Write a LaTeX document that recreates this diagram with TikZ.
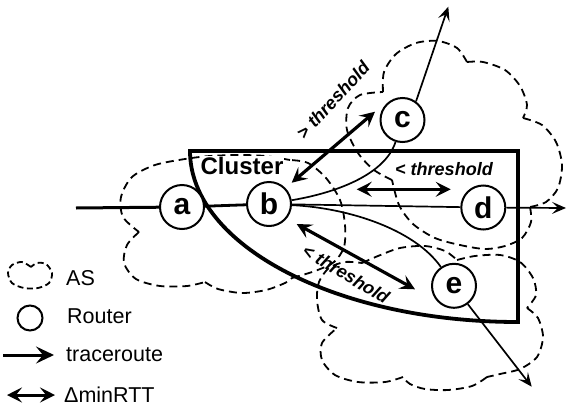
\documentclass[tikz,border=0pt]{standalone}
\usepackage{fontspec}
\setmainfont{Liberation Sans}
\usetikzlibrary{arrows.meta}
\begin{document}
\begin{tikzpicture}[x=1pt,y=-1pt,
  router/.style={circle, draw, line width=2pt, fill=white, minimum size=44pt,
    inner sep=0pt, font=\fontsize{30}{30}\selectfont\bfseries},
  asline/.style={dash pattern=on 8pt off 5pt, line width=1.8pt},
  trace/.style={line width=1.7pt},
  traceend/.style={line width=1.7pt, -{Stealth[length=14pt,width=12pt,inset=6pt]}},
  rtt/.style={line width=3.2pt,
    {Stealth[length=15pt,width=15pt,inset=6pt]}-{Stealth[length=15pt,width=15pt,inset=6pt]}},
  thr/.style={font=\fontsize{18}{18}\selectfont\bfseries\itshape, inner sep=0pt},
  legtext/.style={font=\fontsize{21.5}{21.5}\selectfont, anchor=west, inner sep=0pt},
]
\useasboundingbox (0,0) rectangle (567,407);

% --- autonomous systems (dashed clouds) ---
% left AS around a
\draw[asline]
  plot[smooth] coordinates {(290,160) (265,156) (240,155) (210,156) (185,159) (155,165) (132,177) (121,197) (123,217) (139,232)}
  plot[smooth] coordinates {(139,232) (127,245) (124,263) (136,279) (160,286) (187,286) (205,282)}
  plot[smooth] coordinates {(205,282) (218,289) (242,293) (266,290) (285,283) (292,278)}
  plot[smooth] coordinates {(292,278) (315,271) (334,262) (344,247) (345,225) (340,200) (326,178) (308,163) (290,160)};
% upper right AS around c and d
\draw[asline]
  plot[smooth] coordinates {(383,92) (384,72) (396,54) (416,43) (438,41) (457,48) (467,62)}
  plot[smooth] coordinates {(467,62) (483,62) (505,70) (520,86) (527,105) (523,118)}
  plot[smooth] coordinates {(523,118) (542,125) (556,142) (562,165) (558,188) (546,202) (530,207)}
  plot[smooth] coordinates {(530,207) (531,222) (522,238) (505,246) (485,249) (460,245) (435,238) (413,224) (399,205) (392,180)}
  plot[smooth] coordinates {(392,180) (374,170) (358,153) (347,130) (348,108) (360,95) (383,92)};
% lower right AS around e
\draw[asline]
  plot[smooth] coordinates {(337,328) (322,320) (317,300) (319,282) (329,268) (345,262) (362,263)}
  plot[smooth] coordinates {(362,263) (378,256) (400,248) (425,246) (445,251) (457,260)}
  plot[smooth] coordinates {(457,260) (475,256) (500,255) (520,262) (533,278) (536,295) (527,308)}
  plot[smooth] coordinates {(527,308) (538,318) (543,337) (537,357) (520,369) (500,374) (487,377)}
  plot[smooth] coordinates {(487,377) (472,386) (448,390) (425,389) (410,384) (403,377)}
  plot[smooth] coordinates {(403,377) (385,382) (358,382) (335,375) (322,360) (322,343) (337,328)};

% --- cluster region ---
\node[font=\fontsize{24}{24}\selectfont\bfseries, fill=white, inner sep=1pt] (cl) at (242,166) {Cluster};
\draw[line width=3.8pt, line join=miter]
  (190,151) -- (518,151) -- (518,322) .. controls (336.8,322) and (190,245.4) .. cycle;

% --- routers ---
\node[router] (a) at (182,207) {a};
\node[router] (b) at (269,204) {b};
\node[router] (c) at (402.5,120) {c};
\node[router] (d) at (483.3,207.5) {d};
\node[router] (e) at (454,285.8) {e};

\coordinate (src) at (76,208);
\coordinate (cout) at (448.3,6.7);
\coordinate (dout) at (566,208);
\coordinate (eout) at (531.7,386.7);

% --- traceroute paths ---
\draw[line width=3pt] (src) -- (a);
\draw[line width=2.8pt] (a) -- (b);
\draw[trace] (b) .. controls (335,193) and (385,175) .. (c);
\draw[traceend] (c.54) -- (cout);
\draw[trace] (b) -- (d);
\draw[traceend] (d) -- (dout);
\draw[trace] (b) .. controls (350,208) and (415,230) .. (e);
\draw[traceend] (e.-53) -- (eout);

% --- minRTT differences ---
\coordinate (rbc1) at (291.7,182.7);
\coordinate (rbc2) at (375,111.7);
\coordinate (rbd1) at (356.7,189.3);
\coordinate (rbd2) at (450.7,189.3);
\coordinate (rbe1) at (296.7,224);
\coordinate (rbe2) at (415,289.3);
\draw[rtt] (rbc1) -- (rbc2);
\draw[rtt] (rbd1) -- (rbd2);
\draw[rtt] (rbe1) -- (rbe2);

\node[thr, rotate=47] (thc) at (333,100) {> threshold};
\node[thr] (thd) at (444,169) {< threshold};
\node[thr, rotate=-31] (the) at (346,274) {< threshold};

% --- legend ---
\draw[dash pattern=on 6pt off 3.5pt, line width=1.8pt]
  plot[smooth] coordinates {(31,267) (22,262) (12,265) (8,273) (12,283) (24,288) (38,288) (49,283) (52,273) (46,264) (37,263) (31,267)};
\node[circle, draw, line width=2pt, minimum size=25pt, inner sep=0pt] (lr) at (30,318) {};
\coordinate (lt1) at (3,355);
\coordinate (lt2) at (54,355);
\draw[line width=3pt, -{Stealth[length=18pt,width=17pt,inset=7pt]}] (lt1) -- (lt2);
\coordinate (ld1) at (7,395);
\coordinate (ld2) at (55,395);
\draw[line width=3pt, {Stealth[length=15pt,width=15pt,inset=6pt]}-{Stealth[length=15pt,width=15pt,inset=6pt]}] (ld1) -- (ld2);

\node[legtext] (las) at (66,278) {AS};
\node[legtext] (lrt) at (67,316) {Router};
\node[legtext] (ltr) at (66,355) {traceroute};
\node[legtext] (lmr) at (64,395) {ΔminRTT};
\end{tikzpicture}
\end{document}
